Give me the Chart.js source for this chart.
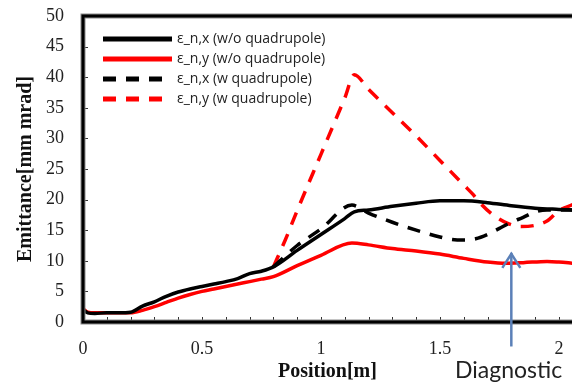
<!DOCTYPE html>
<html>
<head>
<meta charset="utf-8">
<script src="https://cdn.jsdelivr.net/npm/chart.js@4"></script>
<style>
body{margin:0;background:#fff;}
#wrap{width:572px;height:392px;}
</style>
</head>
<body>
<div id="wrap"><canvas id="emitChart" width="572" height="392"></canvas></div>
<script>

let labels=["ε_n,x (w/o quadrupole)","ε_n,y (w/o quadrupole)","ε_n,x (w quadrupole)","ε_n,y (w quadrupole)"];

let exWoPos=[0,0.02,0.05,0.1,0.15,0.2,0.25,0.3,0.35,0.4,0.45,0.5,0.55,0.6,0.65,0.7,0.75,0.8,0.9,1.0,1.1,1.14,1.2,1.3,1.4,1.5,1.6,1.7,1.8,1.9,2.0,2.06];
let exWo=[2.0,1.5,1.4,1.5,1.5,1.6,2.6,3.3,4.2,4.9,5.4,5.8,6.2,6.6,7.1,7.9,8.3,9.0,11.7,14.3,16.9,18.0,18.3,18.9,19.4,19.8,19.8,19.5,19.0,18.6,18.4,18.3];

let eyWoPos=[0,0.02,0.05,0.1,0.15,0.2,0.25,0.3,0.35,0.4,0.45,0.5,0.55,0.6,0.65,0.7,0.75,0.8,0.9,1.0,1.13,1.2,1.3,1.4,1.5,1.6,1.7,1.78,1.85,1.95,2.0,2.06];
let eyWo=[2.2,1.6,1.5,1.5,1.5,1.5,1.9,2.5,3.2,3.9,4.5,5.0,5.4,5.8,6.2,6.6,7.0,7.4,9.2,10.9,12.9,12.6,12.0,11.6,11.1,10.4,9.8,9.6,9.7,9.9,9.8,9.6];

let exWPos=[0.8,0.9,1.0,1.13,1.2,1.3,1.4,1.5,1.55,1.6,1.65,1.7,1.75,1.8,1.85,1.9,1.95,2.0,2.06];
let exW=[9.0,12.5,15.2,19.1,17.8,16.3,15.0,13.9,13.5,13.4,13.6,14.3,15.3,16.3,17.1,18.0,18.3,18.3,18.3];

let eyWPos=[0.8,0.85,0.9,1.0,1.1,1.14,1.2,1.3,1.4,1.5,1.6,1.64,1.67,1.72,1.78,1.84,1.9,1.95,2.0,2.06];
let eyW=[9.0,13.4,18.2,27.4,36.6,40.4,38.0,34.2,30.4,26.4,22.4,20.8,19.4,17.6,16.2,15.6,15.8,16.5,18.2,19.2];

let xTicks=[0,0.5,1,1.5,2];
let yTicks=[0,5,10,15,20,25,30,35,40,45,50];
let xMax=2.055;
let diagnosticPos=1.8;

function pts(xs,ys){
return xs.map(function(x,i){return {x:x,y:ys[i]};});
}

let axisPlugin={
id:"axisPlugin",
afterDraw:function(chart){
let ctx=chart.ctx;
let xs=chart.scales.x;
let ys=chart.scales.y;
let L=xs.getPixelForValue(0);
let R=xs.getPixelForValue(xMax);
let T=ys.getPixelForValue(50);
let B=ys.getPixelForValue(0);

ctx.save();
ctx.setLineDash([]);

ctx.strokeStyle="#333";
ctx.lineWidth=1;
for(let i=1;i<=20;i++){
let px=Math.round(xs.getPixelForValue(i/10))+0.5;
ctx.beginPath();
ctx.moveTo(px,B);
ctx.lineTo(px,B-5);
ctx.stroke();
}
yTicks.forEach(function(v){
let py=Math.round(ys.getPixelForValue(v))+0.5;
ctx.beginPath();
ctx.moveTo(L,py);
ctx.lineTo(L+5,py);
ctx.stroke();
});

ctx.strokeStyle="#8a8a8a";
ctx.lineWidth=5;
ctx.beginPath();
ctx.moveTo(R,T);
ctx.lineTo(L,T);
ctx.lineTo(L,B);
ctx.lineTo(R,B);
ctx.stroke();
ctx.strokeStyle="#000";
ctx.lineWidth=3;
ctx.stroke();

ctx.font="14px 'Open Sans'";
ctx.textBaseline="middle";
chart.data.datasets.forEach(function(ds,i){
let y=39+i*20;
ctx.strokeStyle=ds.borderColor;
ctx.lineWidth=5;
ctx.setLineDash(ds.borderDash||[]);
ctx.beginPath();
ctx.moveTo(103,y);
ctx.lineTo(172,y);
ctx.stroke();
ctx.setLineDash([]);
ctx.fillStyle="#222";
ctx.fillText(ds.label,177,y);
});

let ax=xs.getPixelForValue(diagnosticPos);
let top=ys.getPixelForValue(11.3);
let bot=ys.getPixelForValue(-4);
ctx.strokeStyle="#5b80b8";
ctx.lineWidth=2.5;
ctx.beginPath();
ctx.moveTo(ax,bot);
ctx.lineTo(ax,top);
ctx.stroke();
ctx.beginPath();
ctx.moveTo(ax-9,top+15);
ctx.lineTo(ax,top+1);
ctx.lineTo(ax+9,top+15);
ctx.stroke();

ctx.fillStyle="#222";
ctx.font="23px Lato";
ctx.textBaseline="alphabetic";
ctx.fillText("Diagnostic",455,378);

ctx.restore();
}
};

new Chart(document.getElementById("emitChart"),{

type:"line",

data:{
datasets:[
{label:labels[0],data:pts(exWoPos,exWo),borderColor:"#000",borderWidth:3.5},
{label:labels[1],data:pts(eyWoPos,eyWo),borderColor:"#ff0000",borderWidth:3.5},
{label:labels[2],data:pts(exWPos,exW),borderColor:"#000",borderWidth:3.5,borderDash:[13,10]},
{label:labels[3],data:pts(eyWPos,eyW),borderColor:"#ff0000",borderWidth:3.5,borderDash:[13,10]}
]
},

options:{
responsive:false,
animation:false,
layout:{padding:{top:16,right:0,left:0,bottom:0}},
elements:{point:{radius:0},line:{cubicInterpolationMode:"monotone"}},
plugins:{legend:{display:false},tooltip:{enabled:false}},
scales:{
x:{
type:"linear",
min:0,
max:xMax,
afterFit:function(s){s.height=70;s.paddingLeft=0;s.paddingRight=0;},
afterBuildTicks:function(s){s.ticks=xTicks.map(function(v){return {value:v};});},
grid:{display:false,drawTicks:false},
border:{display:true,color:"#000",width:3},
ticks:{padding:16,color:"#222",font:{family:"'Liberation Serif'",size:18},maxRotation:0,callback:function(v){return String(v);}},
title:{display:true,text:"Position[m]",color:"#111",font:{family:"'Liberation Serif'",size:20,weight:"bold"},padding:{top:0,bottom:8}}
},
y:{
min:0,
max:50,
afterFit:function(s){s.width=83;s.paddingTop=0;s.paddingBottom=0;},
afterBuildTicks:function(s){s.ticks=yTicks.map(function(v){return {value:v};});},
grid:{display:false,drawTicks:false},
border:{display:true,color:"#000",width:3},
ticks:{padding:19,color:"#222",font:{family:"'Liberation Serif'",size:18}},
title:{display:true,text:"Emittance[mm mrad]",color:"#111",font:{family:"'Liberation Serif'",size:20,weight:"bold"},padding:{top:14,bottom:0}}
}
}
},

plugins:[axisPlugin]

});

</script>
</body>
</html>
